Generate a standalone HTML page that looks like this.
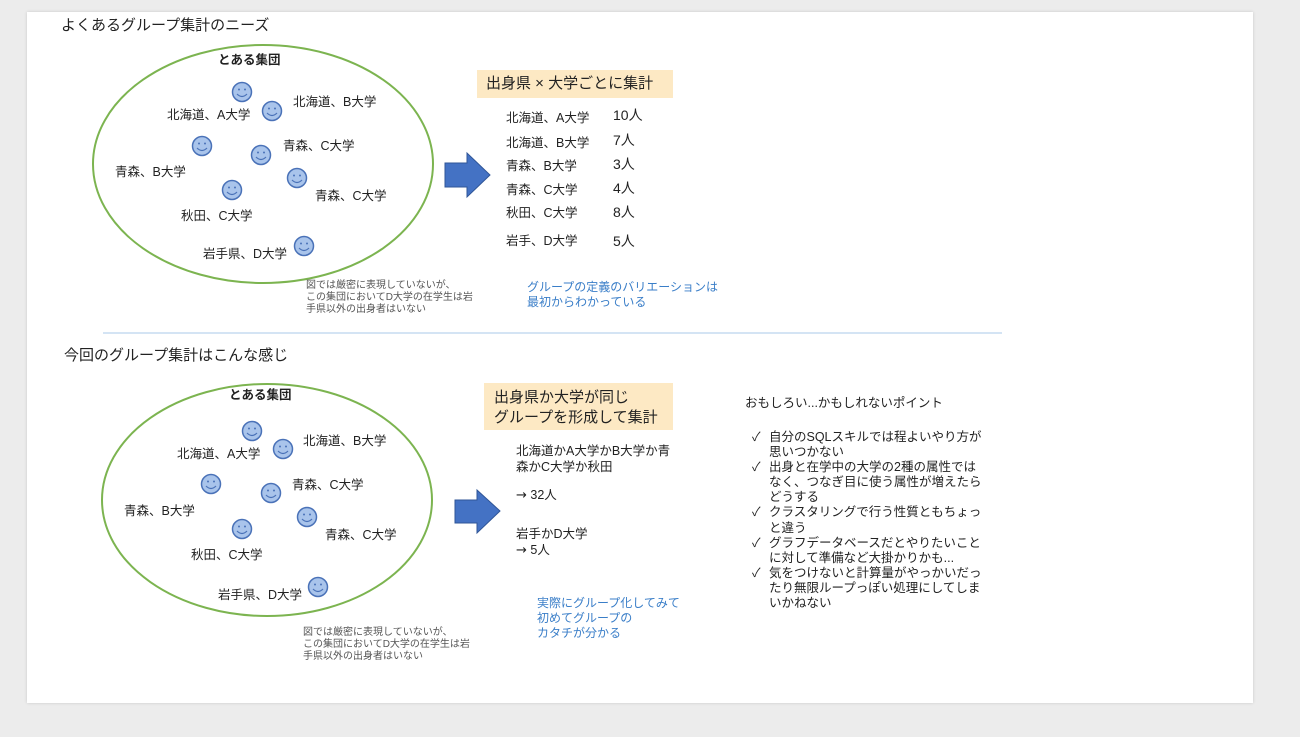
<!DOCTYPE html><html><head><meta charset="utf-8"><style>
body{margin:0;width:1300px;height:737px;background:#ececec;position:relative;overflow:hidden;font-family:"Liberation Sans","Noto Sans CJK JP",sans-serif;color:#222}
.slide{position:absolute;left:27px;top:12px;width:1226px;height:691px;background:#fff;box-shadow:0 0 3px rgba(0,0,0,.15)}
.t{position:absolute;white-space:nowrap;font-size:12.5px;line-height:14px}
.h{font-size:15px;line-height:18px}
.n{font-size:10px;line-height:12px;color:#555}
.b{color:#3a7ec8;font-size:12px;line-height:15px}
.num{font-size:14px}
.ar{font-family:"DejaVu Sans",sans-serif;font-size:13px}
svg{position:absolute;left:0;top:0}
</style></head><body>
<div class="slide"></div>
<svg width="1300" height="737">
<ellipse cx="263" cy="164" rx="170" ry="119" fill="none" stroke="#7cb450" stroke-width="2"/>
<ellipse cx="267" cy="500" rx="165" ry="116" fill="none" stroke="#7cb450" stroke-width="2"/>
<line x1="103" y1="333" x2="1002" y2="333" stroke="#a8c8e8" stroke-width="1"/>
<rect x="477" y="70" width="196" height="28" fill="#fde9c4"/>
<rect x="484" y="383" width="189" height="47" fill="#fde9c4"/>
<polygon points="445,163 467,163 467,153 490,175 467,197 467,187 445,187" fill="#4472c4" stroke="#2f5597"/>
<polygon points="455,500 477,500 477,490 500,511 477,533 477,523 455,523" fill="#4472c4" stroke="#2f5597"/>
<defs><g id="sm"><circle r="9.5" fill="#a9c4eb" stroke="#4a72b8" stroke-width="1.5"/><circle cx="-3" cy="-2.5" r="1" fill="#4a72b8"/><circle cx="3" cy="-2.5" r="1" fill="#4a72b8"/><path d="M-5,2 Q0,7 5,2" fill="none" stroke="#4a72b8" stroke-width="1.2"/></g></defs>
<use href="#sm" x="242" y="92"/><use href="#sm" x="272" y="111"/><use href="#sm" x="202" y="146"/><use href="#sm" x="261" y="155"/><use href="#sm" x="297" y="178"/><use href="#sm" x="232" y="190"/><use href="#sm" x="304" y="246"/>
<use href="#sm" x="252" y="431"/><use href="#sm" x="283" y="449"/><use href="#sm" x="211" y="484"/><use href="#sm" x="271" y="493"/><use href="#sm" x="307" y="517"/><use href="#sm" x="242" y="529"/><use href="#sm" x="318" y="587"/>
</svg>
<div class="t h" style="left:61px;top:17px">よくあるグループ集計のニーズ</div>
<div class="t h" style="left:64px;top:347px">今回のグループ集計はこんな感じ</div>

<div class="t" style="left:218px;top:53px;font-weight:bold">とある集団</div>
<div class="t" style="left:167px;top:108px">北海道、A大学</div>
<div class="t" style="left:293px;top:95px">北海道、B大学</div>
<div class="t" style="left:283px;top:139px">青森、C大学</div>
<div class="t" style="left:115px;top:165px">青森、B大学</div>
<div class="t" style="left:315px;top:189px">青森、C大学</div>
<div class="t" style="left:181px;top:209px">秋田、C大学</div>
<div class="t" style="left:203px;top:247px">岩手県、D大学</div>
<div class="t n" style="left:306px;top:280px">図では厳密に表現していないが、<br>この集団においてD大学の在学生は岩<br>手県以外の出身者はいない</div>

<div class="t" style="left:229px;top:388px;font-weight:bold">とある集団</div>
<div class="t" style="left:177px;top:447px">北海道、A大学</div>
<div class="t" style="left:303px;top:434px">北海道、B大学</div>
<div class="t" style="left:292px;top:478px">青森、C大学</div>
<div class="t" style="left:124px;top:504px">青森、B大学</div>
<div class="t" style="left:325px;top:528px">青森、C大学</div>
<div class="t" style="left:191px;top:548px">秋田、C大学</div>
<div class="t" style="left:218px;top:588px">岩手県、D大学</div>
<div class="t n" style="left:303px;top:627px">図では厳密に表現していないが、<br>この集団においてD大学の在学生は岩<br>手県以外の出身者はいない</div>

<div class="t h" style="left:486px;top:75px">出身県 × 大学ごとに集計</div>
<div class="t" style="left:506px;top:111px">北海道、A大学</div><div class="t num" style="left:613px;top:108px">10人</div>
<div class="t" style="left:506px;top:136px">北海道、B大学</div><div class="t num" style="left:613px;top:133px">7人</div>
<div class="t" style="left:506px;top:159px">青森、B大学</div><div class="t num" style="left:613px;top:157px">3人</div>
<div class="t" style="left:506px;top:183px">青森、C大学</div><div class="t num" style="left:613px;top:181px">4人</div>
<div class="t" style="left:506px;top:206px">秋田、C大学</div><div class="t num" style="left:613px;top:205px">8人</div>
<div class="t" style="left:506px;top:234px">岩手、D大学</div><div class="t num" style="left:613px;top:234px">5人</div>
<div class="t b" style="left:527px;top:280px">グループの定義のバリエーションは<br>最初からわかっている</div>

<div class="t h" style="left:494px;top:388px;line-height:20px">出身県か大学が同じ<br>グループを形成して集計</div>
<div class="t" style="left:516px;top:443px;line-height:16px">北海道かA大学かB大学か青<br>森かC大学か秋田</div>
<div class="t" style="left:516px;top:488px"><span class="ar">→</span> 32人</div>
<div class="t" style="left:516px;top:526px;line-height:16px">岩手かD大学<br><span class="ar">→</span> 5人</div>
<div class="t b" style="left:537px;top:596px">実際にグループ化してみて<br>初めてグループの<br>カタチが分かる</div>

<div class="t" style="left:745px;top:396px">おもしろい...かもしれないポイント</div>
<div class="t" style="left:752px;top:430px;line-height:15.1px">✓<br><br>✓<br><br><br>✓<br><br>✓<br><br>✓</div>
<div class="t" style="left:769px;top:430px;line-height:15.1px">自分のSQLスキルでは程よいやり方が<br>思いつかない<br>出身と在学中の大学の2種の属性では<br>なく、つなぎ目に使う属性が増えたら<br>どうする<br>クラスタリングで行う性質ともちょっ<br>と違う<br>グラフデータベースだとやりたいこと<br>に対して準備など大掛かりかも...<br>気をつけないと計算量がやっかいだっ<br>たり無限ループっぽい処理にしてしま<br>いかねない</div>
</body></html>
